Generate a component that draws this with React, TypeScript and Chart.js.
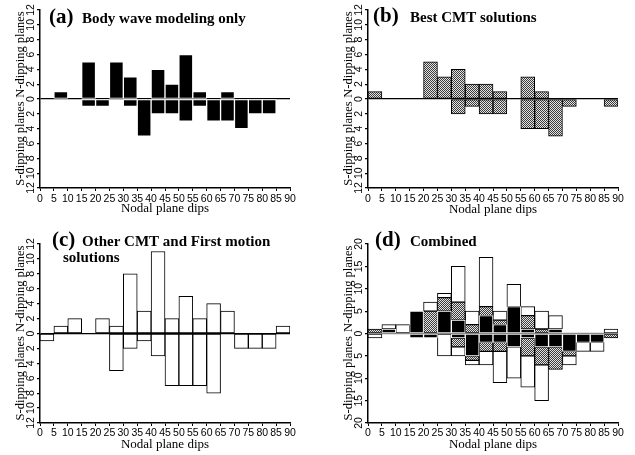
import React, { useEffect, useRef } from "react";
import { Chart, registerables } from "chart.js";

Chart.register(...registerables);

// Bin starts (degrees) of nodal plane dip histogram bins, each 5 degrees wide
const dipBins = [0, 5, 10, 15, 20, 25, 30, 35, 40, 45, 50, 55, 60, 65, 70, 75, 80, 85];

// (a) Body wave modeling only
const bodyWaveN = [0, 1, 0, 5, 0, 5, 3, 0, 4, 2, 6, 1, 0, 1, 0, 0, 0, 0];
const bodyWaveS = [0, 0, 0, 1, 1, 0, 1, 5, 2, 2, 3, 1, 3, 3, 4, 2, 2, 0];

// (b) Best CMT solutions
const bestCmtN = [1, 0, 0, 0, 5, 3, 4, 2, 2, 1, 0, 3, 1, 0, 0, 0, 0, 0];
const bestCmtS = [0, 0, 0, 0, 0, 0, 2, 1, 2, 2, 0, 4, 4, 5, 1, 0, 0, 1];

// (c) Other CMT and First motion solutions
const otherN = [0, 1, 2, 0, 2, 1, 8, 3, 11, 2, 5, 2, 4, 3, 0, 0, 0, 1];
const otherS = [1, 0, 0, 0, 0, 5, 2, 1, 3, 7, 7, 7, 8, 0, 2, 2, 2, 0];

const FONT_SERIF = '"Liberation Serif", "DejaVu Serif", serif';
const FONT_SANS = '"Liberation Sans", Arial, sans-serif';

function toPoints(values: number[], sign: number) {
  return dipBins.map((b, i) => ({ x: b + 2.5, y: sign * values[i] }));
}

function makeHatch(): CanvasPattern | string {
  const c = document.createElement("canvas");
  c.width = 2;
  c.height = 2;
  const g = c.getContext("2d");
  if (!g) return "#999";
  g.fillStyle = "#e4e4e4";
  g.fillRect(0, 0, 2, 2);
  g.fillStyle = "#3c3c3c";
  g.fillRect(0, 0, 1, 1);
  g.fillRect(1, 1, 1, 1);
  const p = g.createPattern(c, "repeat");
  return p || "#999";
}

const panelTextPlugin = {
  id: "panelText",
  afterDraw(chart: any, _args: any, opts: any) {
    const ctx = chart.ctx;
    const ys = chart.scales.y;
    ctx.save();
    ctx.fillStyle = "#000";
    // titles
    (opts.items || []).forEach((it: any) => {
      ctx.font = `bold ${it.size}px ${FONT_SERIF}`;
      ctx.textAlign = "left";
      ctx.textBaseline = "alphabetic";
      ctx.fillText(it.text, it.x, it.y);
    });
    // rotated y tick labels
    ctx.font = `10.5px ${FONT_SANS}`;
    ctx.textAlign = "center";
    ctx.textBaseline = "alphabetic";
    const ax = ys.right;
    ys.ticks.forEach((t: any) => {
      const py = ys.getPixelForValue(t.value);
      ctx.save();
      ctx.translate(ax - opts.tickGap, py);
      ctx.rotate(-Math.PI / 2);
      ctx.fillText(String(Math.abs(t.value)), 0, 0);
      ctx.restore();
    });
    // y axis titles
    ctx.font = `12.5px ${FONT_SERIF}`;
    const zero = ys.getPixelForValue(0);
    const halves = [
      { text: "N-dipping planes", c: (ys.top + zero) / 2 },
      { text: "S-dipping planes", c: (zero + ys.bottom) / 2 },
    ];
    halves.forEach((h) => {
      ctx.save();
      ctx.translate(ax - opts.titleGap, h.c);
      ctx.rotate(-Math.PI / 2);
      ctx.fillText(h.text, 0, 0);
      ctx.restore();
    });
    ctx.restore();
  },
  afterDatasetsDraw(chart: any, _args: any, opts: any) {
    if (!opts.zeroOnTop) return;
    const ctx = chart.ctx;
    const ys = chart.scales.y;
    const y0 = ys.getPixelForValue(0);
    ctx.save();
    ctx.strokeStyle = opts.zeroOnTop;
    ctx.lineWidth = 1.5;
    ctx.beginPath();
    ctx.moveTo(chart.chartArea.left, y0);
    ctx.lineTo(chart.chartArea.right, y0);
    ctx.stroke();
    ctx.restore();
  },
};

type PanelCfg = {
  datasets: any[];
  yMax: number;
  yStep: number;
  axisW: number;
  axisH: number;
  pad: { top: number; right: number };
  titleItems: { text: string; x: number; y: number; size: number }[];
  xTitlePad: number;
  xTickPad: number;
  zeroOnTop?: string;
};

function Panel({ width, height, left, top, build }: { width: number; height: number; left: number; top: number; build: () => PanelCfg }) {
  const ref = useRef<HTMLCanvasElement | null>(null);
  useEffect(() => {
    if (!ref.current) return;
    const cfg = build();
    const chart = new Chart(ref.current, {
      type: "bar",
      data: { datasets: cfg.datasets },
      plugins: [panelTextPlugin],
      options: {
        animation: false,
        responsive: false,
        devicePixelRatio: 1,
        layout: { padding: { top: cfg.pad.top, right: cfg.pad.right, left: 0, bottom: 0 } },
        plugins: {
          legend: { display: false },
          tooltip: { enabled: false },
          title: { display: false },
          panelText: {
            items: cfg.titleItems,
            tickGap: 6.5,
            titleGap: 16.5,
            zeroOnTop: cfg.zeroOnTop,
          },
        } as any,
        datasets: { bar: { barPercentage: 1, categoryPercentage: 1 } },
        scales: {
          x: {
            type: "linear",
            min: 0,
            max: 90,
            stacked: true,
            offset: false,
            grid: { display: true, offset: false, drawOnChartArea: false, drawTicks: true, tickLength: 3, tickColor: "#000", lineWidth: 1 },
            border: { display: true, color: "#000", width: 1.5 },
            ticks: {
              stepSize: 5,
              autoSkip: false,
              maxRotation: 0,
              minRotation: 0,
              padding: cfg.xTickPad,
              color: "#000",
              font: { family: FONT_SANS, size: 10.5 },
            },
            title: {
              display: true,
              text: "Nodal plane dips",
              color: "#000",
              font: { family: FONT_SERIF, size: 13 },
              padding: { top: 0, bottom: cfg.xTitlePad },
            },
            afterFit: (s: any) => {
              s.height = cfg.axisH;
            },
          },
          y: {
            type: "linear",
            min: -cfg.yMax,
            max: cfg.yMax,
            stacked: true,
            grid: {
              display: true,
              drawOnChartArea: true,
              drawTicks: true,
              tickLength: 3,
              tickColor: "#000",
              color: (c: any) => (c.tick && c.tick.value === 0 && !cfg.zeroOnTop ? "#000" : "rgba(0,0,0,0)"),
              lineWidth: 1.2,
            },
            border: { display: true, color: "#000", width: 1.5 },
            ticks: { display: false, stepSize: cfg.yStep },
            afterFit: (s: any) => {
              s.width = cfg.axisW;
            },
          },
        },
      } as any,
    });
    return () => chart.destroy();
  }, []);
  return (
    <canvas
      ref={ref}
      width={width}
      height={height}
      style={{ position: "absolute", left, top, width, height }}
    />
  );
}

const blackStyle = { backgroundColor: "#000", borderColor: "#fff", borderWidth: 1, borderSkipped: false };
const whiteStyle = { backgroundColor: "#fff", borderColor: "#000", borderWidth: 1, borderSkipped: false };

function hatchStyle() {
  return { backgroundColor: makeHatch(), borderColor: "#000", borderWidth: 1, borderSkipped: false };
}

export default function App() {
  return (
    <div style={{ position: "absolute", left: 0, top: 0, width: 635, height: 455, background: "#fff" }}>
      <Panel
        left={0}
        top={0}
        width={320}
        height={225}
        build={() => ({
          datasets: [
            { label: "N-dipping", data: toPoints(bodyWaveN, 1), ...blackStyle },
            { label: "S-dipping", data: toPoints(bodyWaveS, -1), ...blackStyle },
          ],
          yMax: 12,
          yStep: 2,
          axisW: 40,
          axisH: 37,
          pad: { top: 10, right: 30 },
          titleItems: [
            { text: "(a)", x: 49, y: 22.7, size: 21 },
            { text: "Body wave modeling only", x: 82, y: 22.7, size: 15 },
          ],
          xTitlePad: 8.5,
          xTickPad: 2,
        })}
      />
      <Panel
        left={320}
        top={0}
        width={315}
        height={225}
        build={() => ({
          datasets: [
            { label: "N-dipping", data: toPoints(bestCmtN, 1), ...hatchStyle() },
            { label: "S-dipping", data: toPoints(bestCmtS, -1), ...hatchStyle() },
          ],
          yMax: 12,
          yStep: 2,
          axisW: 48,
          axisH: 37,
          pad: { top: 10, right: 17 },
          titleItems: [
            { text: "(b)", x: 53, y: 21.7, size: 21 },
            { text: "Best CMT solutions", x: 90, y: 21.7, size: 15 },
          ],
          xTitlePad: 7.5,
          xTickPad: 2,
        })}
      />
      <Panel
        left={0}
        top={225}
        width={320}
        height={230}
        build={() => ({
          datasets: [
            { label: "N-dipping", data: toPoints(otherN, 1), ...whiteStyle },
            { label: "S-dipping", data: toPoints(otherS, -1), ...whiteStyle },
          ],
          yMax: 12,
          yStep: 2,
          axisW: 40,
          axisH: 32,
          pad: { top: 19, right: 30 },
          titleItems: [
            { text: "(c)", x: 52, y: 20.7, size: 21 },
            { text: "Other CMT and First motion", x: 82, y: 20.7, size: 15 },
            { text: "solutions", x: 63, y: 37.3, size: 15 },
          ],
          xTitlePad: 2.7,
          xTickPad: 1,
        })}
      />
      <Panel
        left={320}
        top={225}
        width={315}
        height={230}
        build={() => {
          const h = makeHatch();
          const hs = { backgroundColor: h, borderColor: "#000", borderWidth: 1, borderSkipped: false };
          return {
            datasets: [
              { label: "Body wave N", data: toPoints(bodyWaveN, 1), ...blackStyle },
              { label: "Best CMT N", data: toPoints(bestCmtN, 1), ...hs },
              { label: "Other N", data: toPoints(otherN, 1), ...whiteStyle },
              { label: "Body wave S", data: toPoints(bodyWaveS, -1), ...blackStyle },
              { label: "Best CMT S", data: toPoints(bestCmtS, -1), ...hs },
              { label: "Other S", data: toPoints(otherS, -1), ...whiteStyle },
            ],
            yMax: 20,
            yStep: 5,
            axisW: 48,
            axisH: 32,
            pad: { top: 19, right: 17 },
            titleItems: [
              { text: "(d)", x: 55, y: 21, size: 21 },
              { text: "Combined", x: 90, y: 21, size: 15 },
            ],
            xTitlePad: 2.7,
            xTickPad: 1,
            zeroOnTop: "#8a8a8a",
          };
        }}
      />
    </div>
  );
}
